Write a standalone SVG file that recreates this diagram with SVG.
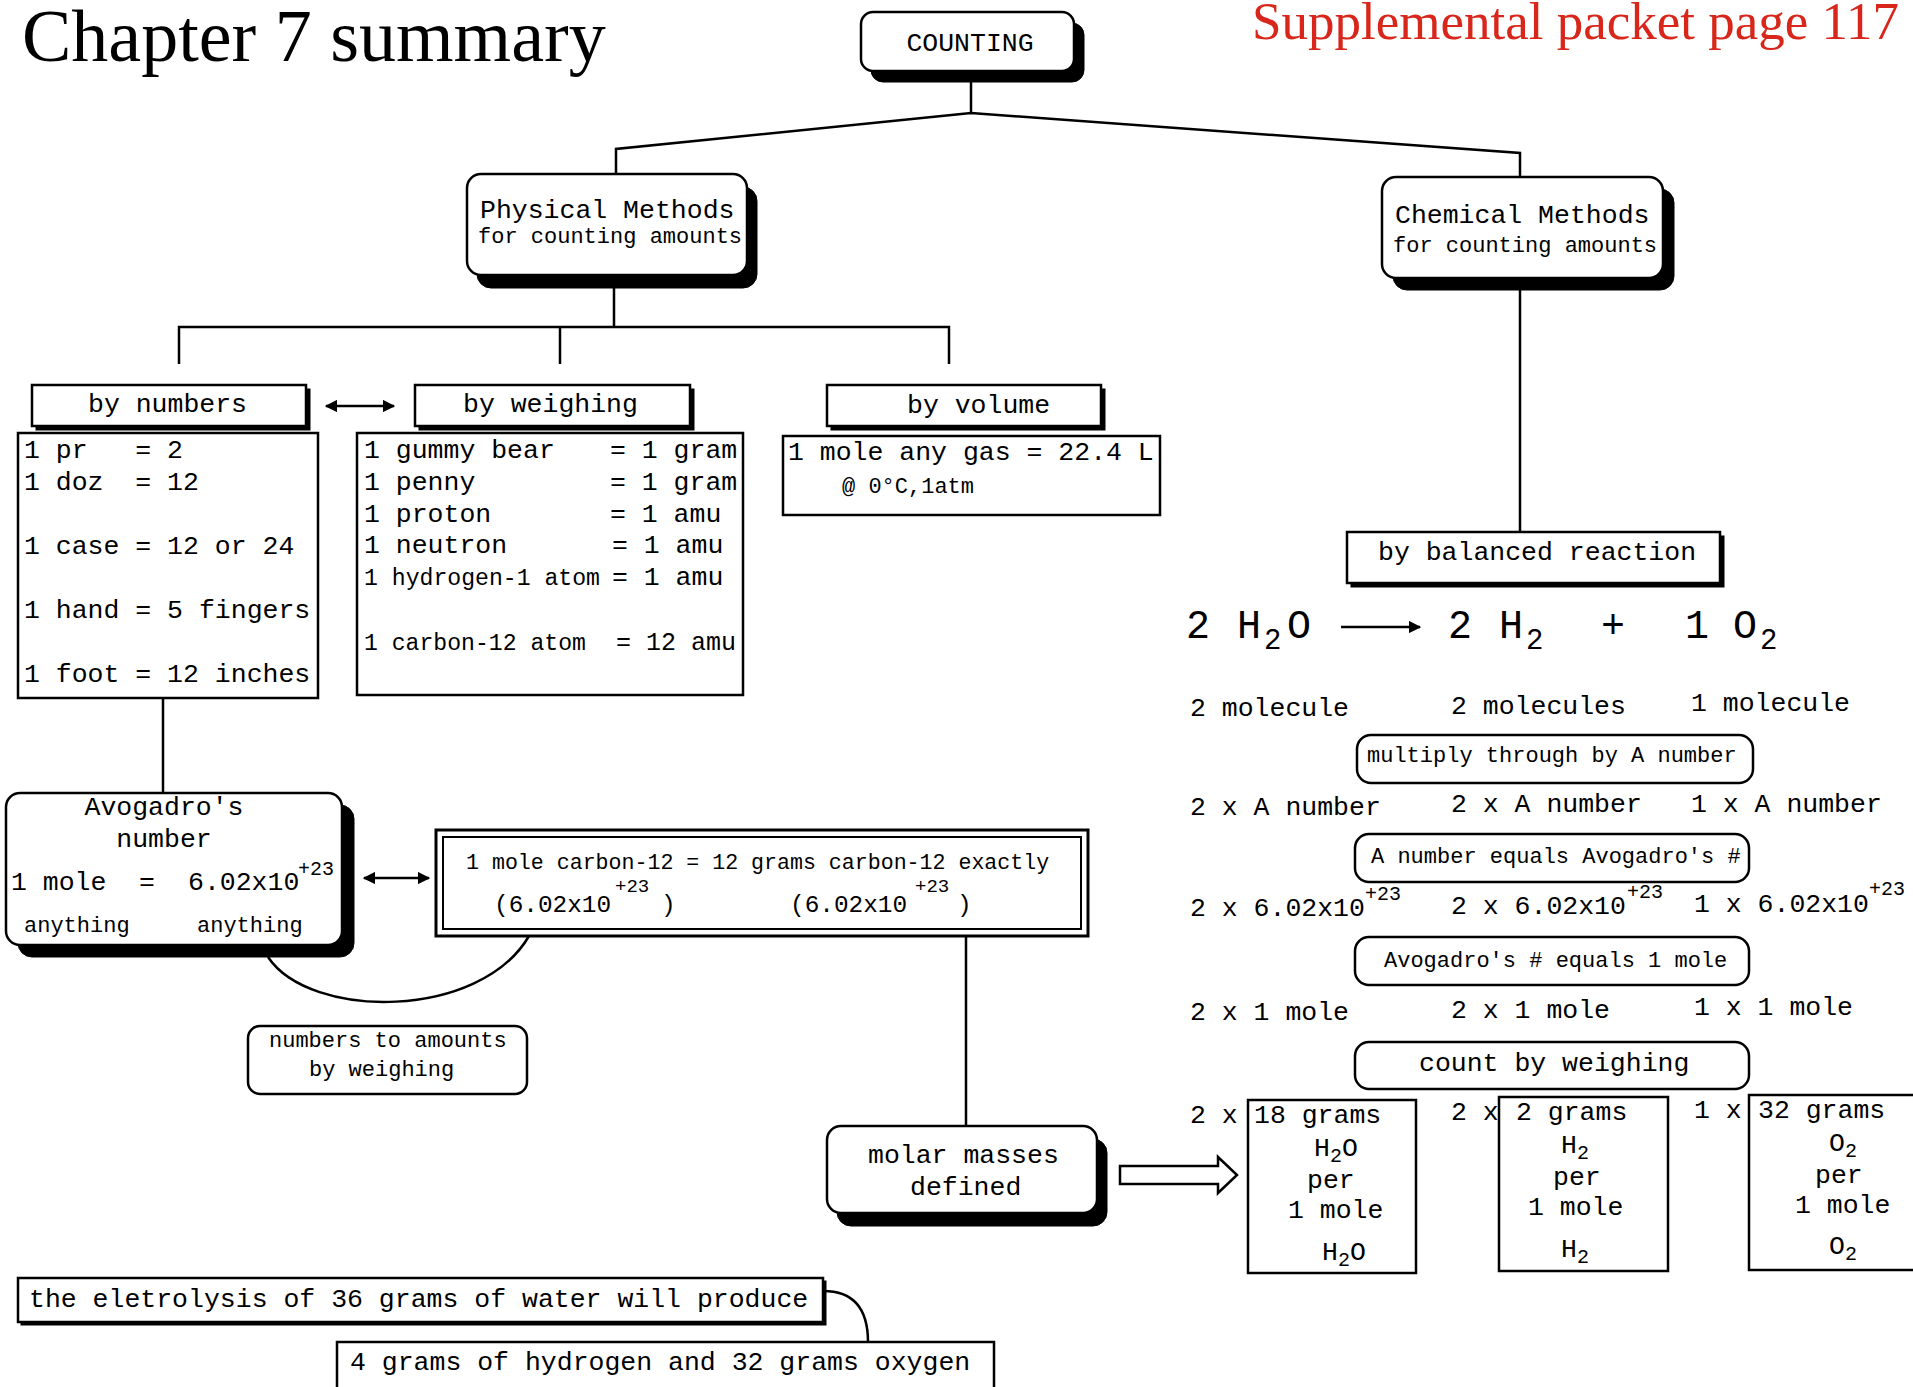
<svg xmlns="http://www.w3.org/2000/svg" width="1913" height="1387" viewBox="0 0 1913 1387">
<defs>
<style>
.t{font-family:"Liberation Mono","DejaVu Sans Mono",monospace;font-size:26.5px;fill:#000}
.s{font-size:22px}
.sup{font-size:20px}
.eq{font-size:40px}
.sub{font-size:20px}
.box{fill:#fff;stroke:#000;stroke-width:2.5}
.sh{fill:#000;stroke:#000;stroke-width:1}
.ln{fill:none;stroke:#000;stroke-width:2.5}
</style>
<marker id="ah" viewBox="0 0 10 10" refX="9" refY="5" markerWidth="5" markerHeight="5" orient="auto-start-reverse" markerUnits="strokeWidth">
<path d="M0,0 L10,5 L0,10 Z" fill="#000"/>
</marker>
</defs>
<rect width="1913" height="1387" fill="#fff"/>

<text x="22" y="61" font-family="'Liberation Serif',serif" font-size="74">Chapter 7 summary</text>
<text x="1252" y="39" font-family="'Liberation Serif',serif" font-size="53" fill="#d8261a">Supplemental packet page 117</text>

<g id="connectors">
<polyline class="ln" points="971,82 971,113"/>
<polyline class="ln" points="616,174 616,149 971,113 1520,153 1520,177"/>
<line class="ln" x1="614" y1="288" x2="614" y2="327"/>
<polyline class="ln" points="179,364 179,327 949,327 949,364"/>
<line class="ln" x1="560" y1="327" x2="560" y2="364"/>
<line class="ln" x1="1520" y1="290" x2="1520" y2="531"/>
<line class="ln" x1="326" y1="406" x2="394" y2="406" marker-start="url(#ah)" marker-end="url(#ah)"/>
<line class="ln" x1="163" y1="698" x2="163" y2="793"/>
<line class="ln" x1="364" y1="878" x2="429" y2="878" marker-start="url(#ah)" marker-end="url(#ah)"/>
<path class="ln" d="M268,957 C310,1020 480,1020 529,936"/>
<line class="ln" x1="966" y1="936" x2="966" y2="1126"/>
<polygon points="1120,1166 1218,1166 1218,1157 1237,1175 1218,1193 1218,1184 1120,1184" fill="#fff" stroke="#000" stroke-width="2.5"/>
<line class="ln" x1="1341" y1="627" x2="1420" y2="627" marker-end="url(#ah)"/>
<path class="ln" d="M823,1291 C855,1291 868,1310 868,1342"/>
</g>

<g id="counting">
<rect class="sh" x="871" y="23" width="213" height="59" rx="12"/>
<rect class="box" x="861" y="12" width="213" height="59" rx="12"/>
<text class="t" x="970" y="51" text-anchor="middle">COUNTING</text>
</g>

<g id="physical">
<rect class="sh" x="477" y="187" width="280" height="101" rx="14"/>
<rect class="box" x="467" y="174" width="280" height="101" rx="14"/>
<text class="t" x="480" y="218">Physical Methods</text>
<text class="t s" x="478" y="243">for counting amounts</text>
</g>

<g id="chemical">
<rect class="sh" x="1393" y="189" width="281" height="101" rx="14"/>
<rect class="box" x="1382" y="177" width="281" height="101" rx="14"/>
<text class="t" x="1395" y="223">Chemical Methods</text>
<text class="t s" x="1393" y="252">for counting amounts</text>
</g>

<g id="by-numbers">
<rect class="sh" x="36" y="389" width="274" height="41"/>
<rect class="box" x="32" y="385" width="274" height="41"/>
<text class="t" x="88" y="412">by numbers</text>
</g>

<g id="by-weighing">
<rect class="sh" x="419" y="389" width="275" height="41"/>
<rect class="box" x="415" y="385" width="275" height="41"/>
<text class="t" x="463" y="412">by weighing</text>
</g>

<g id="by-volume">
<rect class="sh" x="831" y="389" width="274" height="41"/>
<rect class="box" x="827" y="385" width="274" height="41"/>
<text class="t" x="907" y="413">by volume</text>
</g>

<g id="numbers-list">
<rect class="box" x="18" y="433" width="300" height="265"/>
<text class="t" x="24" y="458" xml:space="preserve">1 pr   = 2</text>
<text class="t" x="24" y="490" xml:space="preserve">1 doz  = 12</text>
<text class="t" x="24" y="554">1 case = 12 or 24</text>
<text class="t" x="24" y="618">1 hand = 5 fingers</text>
<text class="t" x="24" y="682">1 foot = 12 inches</text>
</g>

<g id="weighing-list">
<rect class="box" x="357" y="433" width="386" height="262"/>
<text class="t" x="364" y="458">1 gummy bear</text><text class="t" x="610" y="458">= 1 gram</text>
<text class="t" x="364" y="490">1 penny</text><text class="t" x="610" y="490">= 1 gram</text>
<text class="t" x="364" y="522">1 proton</text><text class="t" x="610" y="522">= 1 amu</text>
<text class="t" x="364" y="553">1 neutron</text><text class="t" x="612" y="553">= 1 amu</text>
<text class="t" x="364" y="585" style="font-size:23px" textLength="236" lengthAdjust="spacingAndGlyphs">1 hydrogen-1 atom</text><text class="t" x="612" y="585">= 1 amu</text>
<text class="t" x="364" y="650" style="font-size:23px" textLength="222" lengthAdjust="spacingAndGlyphs">1 carbon-12 atom</text><text class="t" x="616" y="650" style="font-size:25px">= 12 amu</text>
</g>

<g id="volume-list">
<rect class="box" x="783" y="436" width="377" height="79"/>
<text class="t" x="788" y="460">1 mole any gas = 22.4 L</text>
<text class="t s" x="842" y="493">@ 0°C,1atm</text>
</g>

<g id="avogadro">
<rect class="sh" x="18" y="805" width="336" height="152" rx="14"/>
<rect class="box" x="6" y="793" width="336" height="152" rx="14"/>
<text class="t" x="164" y="815" text-anchor="middle">Avogadro's</text>
<text class="t" x="164" y="847" text-anchor="middle">number</text>
<text class="t" x="11" y="890">1 mole</text>
<text class="t" x="139" y="890">=</text>
<text class="t" x="188" y="890">6.02x10</text>
<text class="t sup" x="298" y="875">+23</text>
<text class="t s" x="24" y="932">anything</text>
<text class="t s" x="197" y="932">anything</text>
</g>

<g id="carbon12">
<rect x="436" y="830" width="652" height="106" fill="#fff" stroke="#000" stroke-width="3"/>
<rect x="443" y="837" width="638" height="92" fill="none" stroke="#000" stroke-width="2"/>
<text class="t" x="466" y="869" style="font-size:21.6px">1 mole carbon-12 = 12 grams carbon-12 exactly</text>
<text class="t" x="494" y="912" style="font-size:24.4px">(6.02x10</text>
<text class="t" x="615" y="892" style="font-size:19px">+23</text>
<text class="t" x="661" y="912" style="font-size:24.4px">)</text>
<text class="t" x="790" y="912" style="font-size:24.4px">(6.02x10</text>
<text class="t" x="915" y="892" style="font-size:19px">+23</text>
<text class="t" x="957" y="912" style="font-size:24.4px">)</text>
</g>

<g id="numbers-to-amounts">
<rect class="box" x="248" y="1026" width="279" height="68" rx="12"/>
<text class="t s" x="269" y="1047">numbers to amounts</text>
<text class="t s" x="309" y="1076">by weighing</text>
</g>

<g id="molar-masses">
<rect class="sh" x="837" y="1139" width="270" height="87" rx="14"/>
<rect class="box" x="827" y="1126" width="270" height="87" rx="14"/>
<text class="t" x="868" y="1163">molar masses</text>
<text class="t" x="910" y="1195">defined</text>
</g>

<g id="balanced-reaction">
<rect class="sh" x="1351" y="536" width="373" height="51"/>
<rect class="box" x="1347" y="532" width="373" height="51"/>
<text class="t" x="1378" y="560">by balanced reaction</text>
</g>

<g id="equation">
<text class="t eq" x="1186" y="638">2</text>
<text class="t eq" x="1237" y="638">H</text>
<text class="t" x="1264" y="649" style="font-size:29px">2</text>
<text class="t eq" x="1287" y="638">O</text>
<text class="t eq" x="1448" y="638">2</text>
<text class="t eq" x="1499" y="638">H</text>
<text class="t" x="1526" y="649" style="font-size:29px">2</text>
<text class="t eq" x="1601" y="638">+</text>
<text class="t eq" x="1685" y="638">1</text>
<text class="t eq" x="1733" y="638">O</text>
<text class="t" x="1760" y="649" style="font-size:29px">2</text>
</g>

<g id="rows">
<text class="t" x="1190" y="716">2 molecule</text>
<text class="t" x="1451" y="714">2 molecules</text>
<text class="t" x="1691" y="711">1 molecule</text>
<text class="t" x="1190" y="815">2 x A number</text>
<text class="t" x="1451" y="812">2 x A number</text>
<text class="t" x="1691" y="812">1 x A number</text>
<text class="t" x="1190" y="916">2 x 6.02x10</text><text class="t sup" x="1365" y="900">+23</text>
<text class="t" x="1451" y="914">2 x 6.02x10</text><text class="t sup" x="1627" y="898">+23</text>
<text class="t" x="1694" y="912">1 x 6.02x10</text><text class="t sup" x="1869" y="895">+23</text>
<text class="t" x="1190" y="1020">2 x 1 mole</text>
<text class="t" x="1451" y="1018">2 x 1 mole</text>
<text class="t" x="1694" y="1015">1 x 1 mole</text>
<text class="t" x="1190" y="1123">2 x</text>
<text class="t" x="1451" y="1120">2 x</text>
<text class="t" x="1694" y="1118">1 x</text>
</g>

<g id="multiply">
<rect class="box" x="1357" y="735" width="396" height="48" rx="14"/>
<text class="t s" x="1367" y="762">multiply through by A number</text>
</g>
<g id="a-number">
<rect class="box" x="1355" y="834" width="394" height="48" rx="14"/>
<text class="t s" x="1371" y="863">A number equals Avogadro's #</text>
</g>
<g id="avogadro-mole">
<rect class="box" x="1355" y="937" width="394" height="48" rx="14"/>
<text class="t s" x="1384" y="967">Avogadro's # equals 1 mole</text>
</g>
<g id="count-weighing">
<rect class="box" x="1355" y="1042" width="394" height="47" rx="14"/>
<text class="t" x="1419" y="1071">count by weighing</text>
</g>

<g id="h2o-mass">
<rect class="box" x="1248" y="1100" width="168" height="173"/>
<text class="t" x="1254" y="1123">18 grams</text>
<text class="t" x="1314" y="1156">H<tspan class="sub" dy="6">2</tspan><tspan dy="-6">O</tspan></text>
<text class="t" x="1307" y="1188">per</text>
<text class="t" x="1288" y="1218">1 mole</text>
<text class="t" x="1322" y="1260">H<tspan class="sub" dy="6">2</tspan><tspan dy="-6">O</tspan></text>
</g>
<g id="h2-mass">
<rect class="box" x="1499" y="1097" width="169" height="174"/>
<text class="t" x="1516" y="1120">2 grams</text>
<text class="t" x="1561" y="1153">H<tspan class="sub" dy="6">2</tspan></text>
<text class="t" x="1553" y="1185">per</text>
<text class="t" x="1528" y="1215">1 mole</text>
<text class="t" x="1561" y="1257">H<tspan class="sub" dy="6">2</tspan></text>
</g>
<g id="o2-mass">
<rect class="box" x="1749" y="1095" width="200" height="175"/>
<text class="t" x="1758" y="1118">32 grams</text>
<text class="t" x="1829" y="1151">O<tspan class="sub" dy="6">2</tspan></text>
<text class="t" x="1815" y="1183">per</text>
<text class="t" x="1795" y="1213">1 mole</text>
<text class="t" x="1829" y="1254">O<tspan class="sub" dy="6">2</tspan></text>
</g>

<g id="electrolysis">
<rect class="sh" x="21" y="1281" width="805" height="44"/>
<rect class="box" x="18" y="1278" width="805" height="44"/>
<text class="t" x="29" y="1307">the eletrolysis of 36 grams of water will produce</text>
</g>
<g id="result">
<rect class="box" x="337" y="1342" width="657" height="60"/>
<text class="t" x="350" y="1370">4 grams of hydrogen and 32 grams oxygen</text>
</g>
</svg>
